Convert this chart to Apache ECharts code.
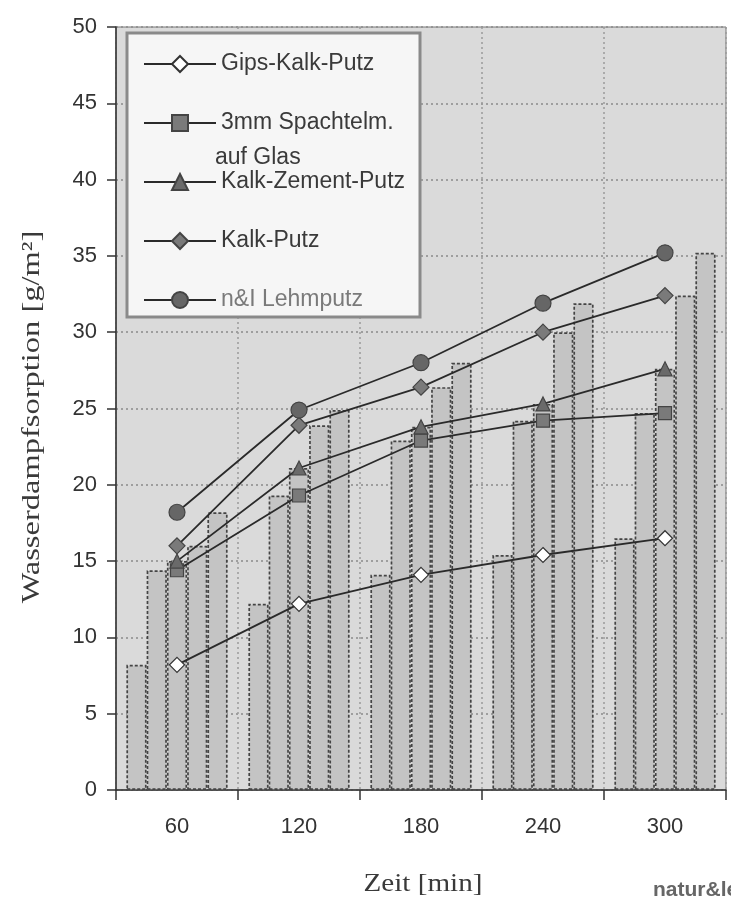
<!DOCTYPE html>
<html>
<head>
<meta charset="utf-8">
<script src="https://cdn.jsdelivr.net/npm/echarts@6/dist/echarts.min.js"></script>
<style>html,body{margin:0;padding:0;background:#fff;}#c{width:731px;height:905px;}</style>
</head>
<body>
<div id="c"></div>
<script>
// ---- data ----
var categories = ['60', '120', '180', '240', '300'];
var seriesNames = ['Gips-Kalk-Putz', '3mm Spachtelm.', 'Kalk-Zement-Putz', 'Kalk-Putz', 'n&I Lehmputz'];
var gipsKalkPutz   = [8.2, 12.2, 14.1, 15.4, 16.5];
var spachtelGlas   = [14.4, 19.3, 22.9, 24.2, 24.7];
var kalkZementPutz = [15.0, 21.1, 23.8, 25.3, 27.6];
var kalkPutz       = [16.0, 23.9, 26.4, 30.0, 32.4];
var lehmputz       = [18.2, 24.9, 28.0, 31.9, 35.2];
var yTicks = [0, 5, 10, 15, 20, 25, 30, 35, 40, 45, 50];

var values = [gipsKalkPutz, spachtelGlas, kalkZementPutz, kalkPutz, lehmputz];
var symbols = [
  {symbol: 'diamond', size: 15, color: '#ffffff', border: '#333'},
  {symbol: 'rect', size: 13, color: '#7a7a7a', border: '#444'},
  {symbol: 'triangle', size: 14, color: '#6a6a6a', border: '#444'},
  {symbol: 'diamond', size: 16, color: '#7a7a7a', border: '#444'},
  {symbol: 'circle', size: 16, color: '#666666', border: '#444'}
];

var chart = echarts.init(document.getElementById('c'));
var series = [];
values.forEach(function (v, i) {
  series.push({
    name: 'bar_' + i,
    type: 'bar',
    data: v,
    barGap: '0%',
    barCategoryGap: '17%',
    itemStyle: {color: '#c4c4c4', borderColor: '#444', borderWidth: 1.7, borderType: [3, 2]},
    silent: true,
    z: 2
  });
});
values.forEach(function (v, i) {
  var s = symbols[i];
  series.push({
    name: seriesNames[i],
    type: 'line',
    data: v,
    symbol: s.symbol,
    symbolSize: s.size,
    lineStyle: {color: '#2a2a2a', width: 1.8},
    itemStyle: {color: s.color, borderColor: s.border, borderWidth: 1.2},
    z: 5
  });
});

var option = {
  animation: false,
  backgroundColor: '#ffffff',
  grid: {left: 116, right: 5, top: 27, bottom: 115, show: true, backgroundColor: '#dadada', borderColor: '#777', borderWidth: 1},
  xAxis: {
    type: 'category',
    data: categories,
    axisLine: {lineStyle: {color: '#333', width: 1.5}},
    axisTick: {show: true, length: 10, lineStyle: {color: '#333', width: 1.5}},
    axisLabel: {fontFamily: 'Liberation Sans', fontSize: 22, color: '#333', margin: 26},
    splitLine: {show: true, lineStyle: {color: '#9a9a9a', type: [2, 3], width: 1.5}}
  },
  yAxis: {
    type: 'value',
    min: yTicks[0], max: yTicks[yTicks.length - 1], interval: 5,
    axisLine: {show: true, lineStyle: {color: '#333', width: 1.5}},
    axisTick: {show: true, length: 9, lineStyle: {color: '#333', width: 1.5}},
    axisLabel: {fontFamily: 'Liberation Sans', fontSize: 22, color: '#333', margin: 19},
    splitLine: {show: true, lineStyle: {color: '#8a8a8a', type: [2, 3], width: 1.5}}
  },
  legend: {
    orient: 'vertical',
    left: 138, top: 47,
    itemWidth: 72, itemHeight: 20, itemGap: 35,
    selectedMode: false,
    textStyle: {fontFamily: 'Liberation Sans', fontSize: 23, color: '#3a3a3a', lineHeight: 24},
    data: [
      {name: seriesNames[0]},
      {name: seriesNames[1]},
      {name: seriesNames[2]},
      {name: seriesNames[3]},
      {name: seriesNames[4], textStyle: {color: '#7a7a7a'}}
    ],
    z: 10
  },
  graphic: [
    {type: 'rect', z: 8, shape: {x: 127, y: 33, width: 293, height: 284},
     style: {fill: '#f6f6f6', stroke: '#8a8a8a', lineWidth: 3}},
    {type: 'text', z: 11, left: 215, top: 146,
     style: {text: 'auf Glas', fontFamily: 'Liberation Sans', fontSize: 23, fill: '#3a3a3a'}},
    {type: 'text', z: 11, x: 32, y: 417, rotation: Math.PI / 2, scaleX: 1.3,
     style: {text: 'Wasserdampfsorption [g/m²]', fontFamily: 'Liberation Serif', fontSize: 25, fill: '#3a3a3a', align: 'center', verticalAlign: 'middle'}},
    {type: 'text', z: 11, x: 423, y: 884, scaleX: 1.12,
     style: {text: 'Zeit [min]', fontFamily: 'Liberation Serif', fontSize: 26, fill: '#3a3a3a', align: 'center', verticalAlign: 'middle'}},
    {type: 'text', z: 11, left: 653, top: 880,
     style: {text: 'natur&lehm', fontFamily: 'Liberation Sans', fontWeight: 'bold', fontSize: 21, fill: '#666'}}
  ],
  series: series
};
chart.setOption(option);
</script>
</body>
</html>
